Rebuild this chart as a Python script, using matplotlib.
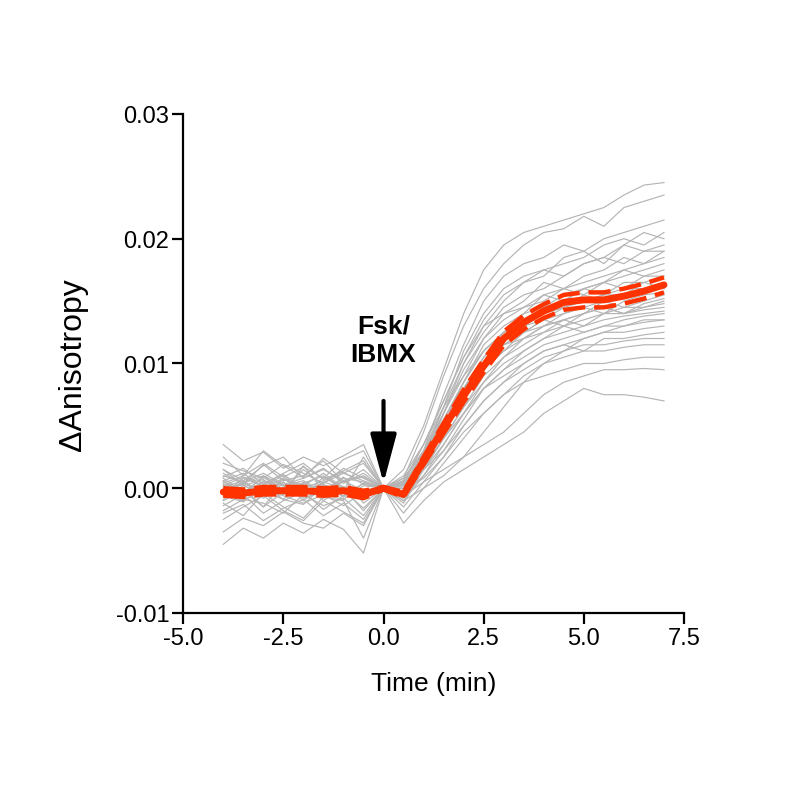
import matplotlib
matplotlib.use('Agg')
import matplotlib.pyplot as plt
from matplotlib.ticker import FormatStrFormatter

plt.rcParams['font.family'] = ['Liberation Sans', 'DejaVu Sans']

# time points (min)
time = [-4.0, -3.5, -3.0, -2.5, -2.0, -1.5, -1.0, -0.5, 0.0, 0.5, 1.0, 1.5,
        2.0, 2.5, 3.0, 3.5, 4.0, 4.5, 5.0, 5.5, 6.0, 6.5, 7.0]

# single cell traces, delta anisotropy x 1e-3
cells = [
    [1.0, 0.5, 1.2, 0.3, 0.8, 1.5, 0.6, 0.9, 0, 1.5, 5.0, 9.5, 14.0, 17.5, 19.5, 20.5, 21.0, 21.5, 22.0, 22.5, 23.5, 24.3, 24.5],
    [-0.5, 0.8, 0.2, 1.0, -0.3, 0.4, 1.2, 0.6, 0, 0.8, 4.5, 9.0, 13.0, 16.0, 18.0, 19.5, 20.5, 20.8, 21.8, 21.0, 22.5, 23.0, 23.5],
    [0.3, -0.4, 0.9, -0.2, 1.5, 0.2, -0.6, 0.4, 0, -0.5, 3.0, 7.5, 11.5, 15.0, 17.0, 18.0, 18.5, 19.5, 19.0, 20.0, 20.5, 21.0, 21.5],
    [-1.0, -0.2, -1.5, 0.5, -0.8, -0.3, 0.9, -1.2, 0, 0.4, 3.5, 7.0, 10.5, 13.5, 15.5, 16.5, 17.5, 18.0, 18.5, 19.5, 20.0, 19.5, 20.5],
    [0.6, 1.2, 0.0, -0.5, 0.4, 1.0, -0.2, 2.5, 0, -0.8, 2.0, 6.0, 10.0, 13.0, 15.0, 16.5, 17.0, 18.5, 19.0, 18.0, 19.5, 20.5, 20.0],
    [-0.2, 0.3, -0.8, 0.1, -0.6, 0.5, 0.0, -0.9, 0, 0.2, 3.0, 6.5, 10.0, 12.5, 14.5, 15.5, 16.0, 17.0, 18.0, 18.5, 18.0, 19.0, 19.5],
    [1.5, 0.2, 0.7, -0.4, 1.8, -0.2, 0.6, -0.6, 0, -0.3, 2.5, 6.0, 9.0, 12.0, 14.0, 15.0, 16.5, 16.0, 17.0, 17.5, 18.5, 18.0, 19.0],
    [-1.8, -0.9, -1.2, -2.0, -0.5, -1.4, -0.8, -2.2, 0, 0.6, 3.0, 6.0, 9.5, 12.0, 13.5, 14.5, 15.0, 16.0, 16.5, 17.0, 17.5, 18.0, 18.5],
    [0.2, 0.9, 0.4, 1.1, 0.0, 0.6, 1.3, 0.3, 0, -1.2, 1.5, 5.0, 8.5, 11.0, 12.5, 14.0, 15.5, 16.0, 15.5, 16.5, 17.0, 17.5, 18.0],
    [-0.6, -1.1, 0.3, -0.9, -1.3, 0.2, -0.4, -0.1, 0, 0.0, 2.5, 5.5, 8.5, 11.5, 13.0, 14.0, 14.5, 15.0, 16.0, 16.5, 16.0, 17.0, 17.5],
    [2.0, 1.4, 0.8, 1.9, 1.2, 0.4, 1.6, 0.8, 0, -0.6, 2.0, 5.0, 8.0, 10.5, 12.5, 13.5, 14.5, 15.5, 16.0, 15.5, 16.5, 16.5, 17.0],
    [-0.3, 0.4, -0.2, -0.9, 0.5, -0.5, -1.4, -0.3, 0, 0.3, 2.8, 5.5, 8.5, 11.0, 12.5, 13.0, 13.5, 14.5, 15.0, 15.5, 16.0, 16.0, 16.5],
    [0.8, -0.3, 0.5, 0.2, -0.7, 0.9, 0.1, -0.4, 0, -0.4, 1.8, 4.5, 7.5, 10.0, 11.5, 12.5, 13.5, 14.0, 14.5, 15.0, 15.5, 15.8, 16.2],
    [-2.5, -1.5, -0.6, -1.8, -2.6, -1.0, -1.9, -2.8, 0, 1.0, 3.5, 6.5, 9.0, 11.0, 12.5, 13.5, 14.0, 14.5, 15.5, 15.0, 15.5, 16.5, 16.0],
    [0.1, 0.6, -0.5, 0.7, 0.3, -0.2, 0.5, 1.5, 0, -0.2, 2.0, 4.5, 7.0, 9.5, 11.0, 12.0, 13.0, 14.0, 14.5, 14.0, 15.0, 15.5, 15.7],
    [-0.9, 0.0, -1.5, -0.3, 0.2, -0.8, -0.2, -1.6, 0, 0.5, 2.5, 5.0, 7.5, 9.5, 11.0, 12.5, 13.5, 13.0, 14.0, 15.0, 14.5, 15.0, 15.5],
    [1.2, 0.3, 1.9, 0.6, 1.0, 2.2, 0.5, 1.0, 0, -1.0, 1.0, 3.5, 6.0, 8.5, 10.5, 12.0, 13.0, 13.5, 14.0, 14.5, 14.0, 14.8, 15.2],
    [-0.4, -1.0, -0.1, -0.6, -1.2, -0.5, -0.9, 0.2, 0, 0.2, 2.2, 5.0, 8.0, 10.0, 11.5, 12.0, 12.5, 13.5, 14.0, 14.5, 14.0, 14.5, 15.0],
    [0.5, -0.2, 0.0, 0.8, -0.4, 0.3, -0.7, 0.4, 0, -0.3, 1.5, 4.0, 6.5, 9.0, 10.5, 11.5, 12.5, 13.0, 13.5, 14.0, 14.5, 14.5, 14.8],
    [-3.5, -2.4, -3.0, -1.9, -2.8, -3.2, -2.0, -3.0, 0, 0.8, 3.0, 5.5, 8.0, 10.0, 11.5, 12.5, 13.0, 13.5, 13.0, 14.0, 14.0, 14.3, 14.5],
    [3.5, 2.2, 2.9, 1.6, 2.5, 1.8, 2.6, 3.5, 0, -0.8, 1.5, 4.0, 6.5, 8.5, 10.0, 11.0, 12.0, 12.5, 13.0, 13.5, 13.8, 14.0, 14.2],
    [-0.1, 0.4, 1.0, 0.2, 0.6, -0.3, 0.8, 0.5, 0, 0.0, 1.5, 3.5, 6.0, 8.0, 9.5, 11.0, 12.0, 13.0, 12.5, 13.0, 13.5, 13.8, 14.0],
    [-1.4, -0.5, -2.0, -1.0, -0.3, -1.7, -0.6, -0.8, 0, -0.5, 1.0, 3.0, 5.5, 8.0, 9.5, 10.5, 11.5, 12.0, 12.5, 13.0, 13.0, 13.3, 13.5],
    [0.9, 1.6, 0.3, 1.2, 2.0, 0.7, 1.4, 2.2, 0, -1.5, 0.5, 2.5, 5.0, 7.0, 8.5, 10.0, 11.0, 11.5, 12.0, 12.5, 12.5, 12.8, 13.0],
    [-0.7, 0.2, -0.4, 0.5, -1.0, 0.3, -0.3, -0.5, 0, 0.3, 1.8, 4.0, 6.0, 8.0, 9.0, 10.0, 11.0, 11.5, 11.0, 12.0, 12.0, 12.3, 12.5],
    [-4.5, -3.2, -4.0, -2.8, -3.6, -2.5, -3.3, -5.2, 0, 0.5, 1.5, 3.0, 5.0, 7.0, 8.5, 9.5, 10.5, 11.0, 11.5, 11.5, 11.8, 12.0, 12.0],
    [2.5, 1.0, 3.0, 1.8, 0.9, 2.4, 1.2, 2.0, 0, -2.0, 0.0, 2.0, 4.0, 6.0, 7.5, 9.0, 10.0, 10.5, 11.0, 11.0, 11.3, 11.5, 11.5],
    [0.0, -0.8, 0.6, -0.2, 0.3, -1.0, 0.1, -0.3, 0, -0.2, 0.8, 2.5, 4.5, 6.0, 7.5, 8.5, 9.0, 9.5, 10.0, 10.0, 10.3, 10.5, 10.5],
    [-2.0, -1.3, -2.6, -1.6, -0.9, -2.2, -1.2, -2.5, 0, -0.6, 0.5, 1.5, 2.5, 3.5, 4.5, 6.0, 7.5, 8.5, 9.0, 9.5, 9.5, 9.6, 9.5],
    [1.5, 0.6, 1.8, 2.5, 0.8, 1.6, 0.4, 1.2, 0, -2.8, -1.0, 0.5, 1.5, 2.5, 3.5, 4.5, 6.0, 7.0, 8.0, 7.5, 7.5, 7.3, 7.0],
    [-1.2, -2.2, -0.4, -1.5, -2.4, -0.7, -1.0, -4.0, 0, 0.6, 3.5, 7.0, 10.5, 13.0, 14.0, 14.5, 15.5, 15.0, 16.0, 16.5, 17.5, 17.0, 17.0],
    [0.4, 1.0, 2.0, 0.9, 1.7, 0.8, 2.3, 3.0, 0, -0.4, 2.5, 6.5, 11.0, 14.0, 16.0, 17.0, 17.5, 17.0, 18.0, 18.5, 19.5, 19.0, 19.0],
    [-0.3, 0.5, -0.6, 0.8, 0.0, -0.5, 0.6, -0.2, 0, -1.0, 0.0, 1.0, 2.5, 4.5, 6.5, 8.5, 10.0, 11.0, 12.0, 12.5, 13.0, 13.5, 13.5],
    [0.6, -0.5, 1.0, -0.2, 0.2, 1.2, 0.0, -1.8, 0, 0.0, 2.0, 5.0, 8.0, 10.5, 12.0, 13.0, 14.0, 14.5, 15.0, 15.5, 15.5, 16.0, 16.0],
]

# mean and SEM, x 1e-3
mean = [-0.3, -0.4, -0.2, -0.2, -0.2, -0.3, -0.2, -0.5, 0.0, -0.5, 2.2, 4.8,
        7.4, 9.8, 12.0, 13.3, 14.2, 14.9, 15.1, 15.1, 15.4, 15.8, 16.3]
sem = [0.3, 0.3, 0.3, 0.3, 0.3, 0.3, 0.3, 0.3, 0.1, 0.2, 0.3, 0.4,
       0.5, 0.5, 0.55, 0.55, 0.55, 0.6, 0.6, 0.6, 0.6, 0.6, 0.6]

red = '#ff3300'

fig = plt.figure(figsize=(8, 8.03), dpi=100)
ax = fig.add_axes([0.229, 0.2354, 0.626, 0.6214])

for c in cells:
    ax.plot(time, [v * 1e-3 for v in c], color='#b5b5b5', lw=0.85, zorder=1)

upper = [(m + s) * 1e-3 for m, s in zip(mean, sem)]
lower = [(m - s) * 1e-3 for m, s in zip(mean, sem)]
ax.plot(time, upper, color=red, lw=3.2, dashes=(5, 2), zorder=3)
ax.plot(time, lower, color=red, lw=3.2, dashes=(5, 2), zorder=3)
ax.plot(time, [m * 1e-3 for m in mean], color=red, lw=5, zorder=4,
        solid_capstyle='round')

# stimulus arrow
ax.annotate('', xy=(0, 0.0004), xytext=(0, 0.007),
            arrowprops=dict(arrowstyle='-|>,head_length=3.0,head_width=0.8',
                            color='black', lw=3, shrinkA=0, shrinkB=0),
            zorder=5)
ax.text(0, 0.0119, 'Fsk/\nIBMX', ha='center', va='center', fontsize=19,
        fontweight='bold', linespacing=1.2)

ax.set_xlim(-5, 7.5)
ax.set_ylim(-0.01, 0.03)
ax.set_xticks([-5.0, -2.5, 0.0, 2.5, 5.0, 7.5])
ax.set_yticks([-0.01, 0.0, 0.01, 0.02, 0.03])
ax.xaxis.set_major_formatter(FormatStrFormatter('%.1f'))
ax.yaxis.set_major_formatter(FormatStrFormatter('%.2f'))
ax.spines['top'].set_visible(False)
ax.spines['right'].set_visible(False)
for s in ['left', 'bottom']:
    ax.spines[s].set_linewidth(1.6)
ax.tick_params(direction='out', length=8, width=1.6, labelsize=17, pad=2)

ax.set_xlabel('Time (min)', fontsize=19, labelpad=16)
ax.set_ylabel('ΔAnisotropy', fontsize=23, labelpad=20)

plt.savefig('out.png')
